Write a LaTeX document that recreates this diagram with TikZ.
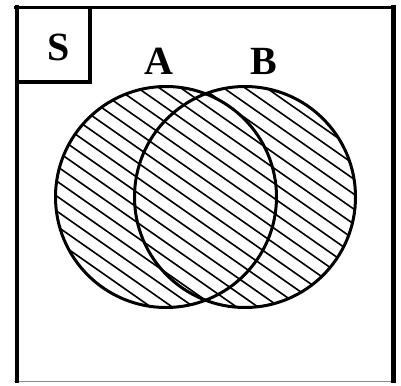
\documentclass[tikz,border=0pt]{standalone}
\usepackage{fontspec}
\setmainfont{Liberation Serif}
\begin{document}
\begin{tikzpicture}[x=1pt,y=-1pt,
  frame/.style={line width=4pt,black},
  ring/.style={line width=3pt,black},
  hatch/.style={line width=1.6pt,black},
  lbl/.style={font=\fontsize{40}{40}\selectfont\bfseries,inner sep=0pt}]
\useasboundingbox (0,0) rectangle (401,385);
\coordinate (ca) at (166,197);
\coordinate (cb) at (245,197);
% hatching
\begin{scope}
  \clip (ca) circle (110.5) (cb) circle (110.5);
  \foreach \k in {-25,...,11}
    \draw[hatch] (40,{182+15*\k-0.7*(58-40)}) -- (380,{182+15*\k+0.7*(380-58)});
\end{scope}
\draw[ring] (ca) circle (110.5);
\draw[ring] (cb) circle (110.5);
% frame
\draw[black!45,line width=1.5pt] (14,381.5) -- (396,381.5);
\draw[frame,line width=3pt] (14,7.5) -- (396,7.5);
\draw[frame] (16.5,5) -- (16.5,383);
\draw[frame,line width=5pt] (393,5) -- (393,383);
\draw[frame] (16.5,82.5) -- (90,82.5) -- (90,7.5);
% labels
\node[lbl] (s) at (58.5,47) {S};
\node[lbl] (a) at (159,61.5) {A};
\node[lbl] (b) at (263.5,61.5) {B};
\end{tikzpicture}
\end{document}
